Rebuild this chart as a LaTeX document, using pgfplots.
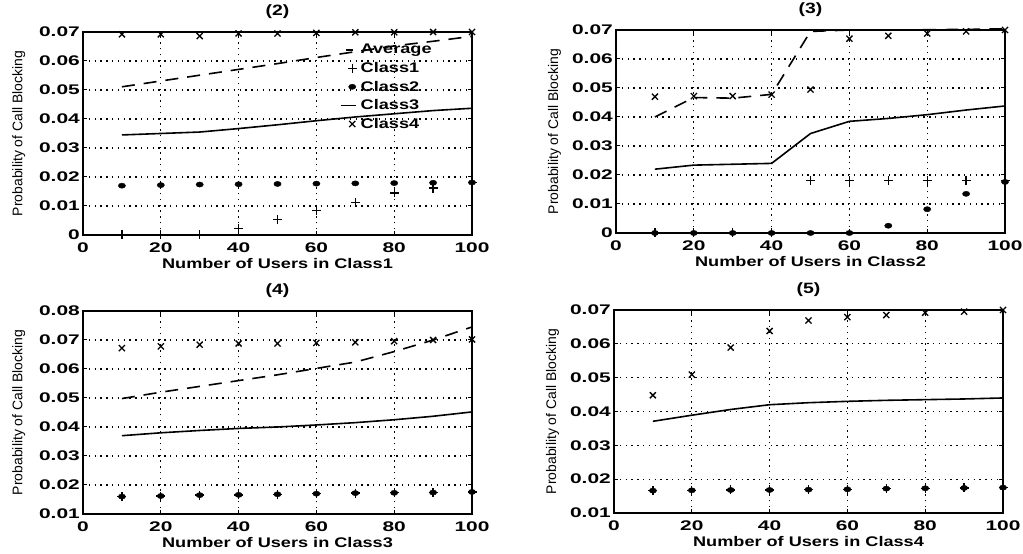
\documentclass[border=0pt]{standalone}
\usepackage{fontspec}
\setmainfont{Liberation Sans}[FakeStretch=1.3]
\newfontfamily\tickfont{Liberation Sans}[FakeStretch=1.5]
\newfontfamily\ylabfont{Liberation Sans}
\usepackage{pgfplots}
\pgfplotsset{compat=1.18}

\pgfplotsset{
  blk/.style={
    scale only axis, width=389bp, height=203bp, anchor=south west,
    xmin=0, xmax=100, xtick={0,20,40,60,80,100},
    clip=false,
    axis line style={line width=1.5bp},
    tick style={line width=1bp, black},
    major tick length=4bp,
    tick align=inside,
    grid=major,
    major grid style={line width=1.3bp, dash pattern=on 1.4bp off 4.4bp, black},
    scaled y ticks=false,
    yticklabel style={/pgf/number format/fixed, /pgf/number format/precision=2,
      anchor=east, inner sep=1bp, xshift=-2bp},
    xticklabel style={anchor=center, yshift=-13bp},
    ticklabel style={font=\tickfont\bfseries\fontsize{14}{14}\selectfont},
    /pgf/number format/assume math mode=true,
    title style={at={(axis description cs:0.5,1.07)}, anchor=center,
      font=\bfseries\fontsize{15}{15}\selectfont},
    xlabel style={at={(axis description cs:0.5,-0.14)}, anchor=center,
      font=\bfseries\fontsize{14}{14}\selectfont},
    ylabel style={at={(axis description cs:-0.165,0.5)}, anchor=center,
      font=\ylabfont\fontsize{14}{14}\selectfont},
    ylabel={Probability of Call Blocking},
  },
  avg/.style={black, line width=1.6bp, dash pattern=on 13bp off 9bp,
    legend image code/.code={\draw[line width=1.6bp] (2bp,0bp) -- (9bp,0bp);}},
  c1/.style={black, only marks, mark=+, mark size=4.5bp, mark options={line width=1.3bp}},
  c2/.style={black, only marks, mark=*, mark size=2.6bp, mark options={xscale=1.4}},
  c3/.style={black, line width=1.6bp,
    legend image code/.code={\draw[line width=1.6bp] (-3bp,0bp) -- (12bp,0bp);}},
  c4/.style={black, only marks, mark=x, mark size=4.3bp, mark options={line width=1.3bp}},
}

\begin{document}
\begin{tikzpicture}[x=1bp,y=1bp]
\useasboundingbox (0,0) rectangle (1023,554);

% (2)
\begin{axis}[blk, at={(83bp,319bp)}, ymin=0, ymax=0.07,
  ytick={0,0.01,0.02,0.03,0.04,0.05,0.06,0.07},
  title={(2)}, xlabel={Number of Users in Class1},
  legend style={at={(0.66,0.95)}, anchor=north west, draw=none, fill=none,
    font=\bfseries\fontsize{14}{14}\selectfont, row sep=3bp, column sep=2bp,
    inner sep=0pt},
  legend cell align=left]
\addplot[avg] coordinates {(10,0.0511) (20,0.0531) (30,0.0551) (40,0.0571) (50,0.0591)
  (60,0.0612) (70,0.0632) (80,0.0652) (90,0.0668) (100,0.0685)};
\addlegendentry{Average}
\addplot[c1] coordinates {(10,0) (20,0) (30,0) (40,0.0022) (50,0.0053) (60,0.0085)
  (70,0.0112) (80,0.0145) (90,0.0162) (100,0.018)};
\addlegendentry{Class1}
\addplot[c2] coordinates {(10,0.0170) (20,0.0172) (30,0.0174) (40,0.0175) (50,0.0176)
  (60,0.0177) (70,0.0178) (80,0.0179) (90,0.0180) (100,0.0181)};
\addlegendentry{Class2}
\addplot[c3] coordinates {(10,0.0345) (20,0.0350) (30,0.0355) (40,0.0367) (50,0.0380)
  (60,0.0394) (70,0.0407) (80,0.0418) (90,0.0429) (100,0.0437)};
\addlegendentry{Class3}
\addplot[c4] coordinates {(10,0.0692) (20,0.0692) (30,0.0686) (40,0.0695) (50,0.0695)
  (60,0.0697) (70,0.0699) (80,0.0699) (90,0.0700) (100,0.0700)};
\addlegendentry{Class4}
\end{axis}

% (3)
\begin{axis}[blk, at={(616bp,321bp)}, ymin=0, ymax=0.07,
  ytick={0,0.01,0.02,0.03,0.04,0.05,0.06,0.07},
  title={(3)}, xlabel={Number of Users in Class2},
  ylabel style={at={(axis description cs:-0.158,0.5)}}]
\addplot[avg] coordinates {(10,0.0400) (20,0.0467) (30,0.0465) (40,0.0478) (50,0.0695)
  (60,0.0700) (70,0.0700) (80,0.0701) (90,0.0702) (100,0.0704)};
\addplot[c1] coordinates {(10,0) (20,0) (30,0) (40,0) (50,0.0180) (60,0.0180)
  (70,0.0180) (80,0.0180) (90,0.0181) (100,0.0180)};
\addplot[c2] coordinates {(10,0) (20,0) (30,0) (40,0) (50,0) (60,0)
  (70,0.0025) (80,0.0082) (90,0.0135) (100,0.0176)};
\addplot[c3] coordinates {(10,0.0220) (20,0.0234) (30,0.0237) (40,0.0240) (50,0.0343)
  (60,0.0385) (70,0.0395) (80,0.0408) (90,0.0424) (100,0.0438)};
\addplot[c4] coordinates {(10,0.0470) (20,0.0472) (30,0.0472) (40,0.0477) (50,0.0495)
  (60,0.0670) (70,0.0680) (80,0.0688) (90,0.0695) (100,0.0700)};
\end{axis}

% (4)
\begin{axis}[blk, at={(83bp,40bp)}, ymin=0.01, ymax=0.08,
  ytick={0.01,0.02,0.03,0.04,0.05,0.06,0.07,0.08},
  title={(4)}, xlabel={Number of Users in Class3}]
\addplot[avg] coordinates {(10,0.0498) (20,0.0520) (30,0.0540) (40,0.0560) (50,0.0580)
  (60,0.0602) (70,0.0624) (80,0.0660) (90,0.0700) (100,0.0745)};
\addplot[c1] coordinates {(10,0.0160) (20,0.0162) (30,0.0165) (40,0.0166) (50,0.0168)
  (60,0.0170) (70,0.0172) (80,0.0173) (90,0.0174) (100,0.0176)};
\addplot[c2] coordinates {(10,0.0160) (20,0.0162) (30,0.0165) (40,0.0166) (50,0.0168)
  (60,0.0170) (70,0.0172) (80,0.0173) (90,0.0174) (100,0.0176)};
\addplot[c3] coordinates {(10,0.0370) (20,0.0380) (30,0.0388) (40,0.0395) (50,0.0400)
  (60,0.0407) (70,0.0415) (80,0.0425) (90,0.0437) (100,0.0452)};
\addplot[c4] coordinates {(10,0.0672) (20,0.0678) (30,0.0684) (40,0.0688) (50,0.0688)
  (60,0.0690) (70,0.0692) (80,0.0696) (90,0.0700) (100,0.0702)};
\end{axis}

% (5)
\begin{axis}[blk, at={(614bp,41bp)}, ymin=0.01, ymax=0.07,
  ytick={0.01,0.02,0.03,0.04,0.05,0.06,0.07},
  title={(5)}, xlabel={Number of Users in Class4},
  ylabel style={at={(axis description cs:-0.158,0.5)}}]
\addplot[c1] coordinates {(10,0.0166) (20,0.0167) (30,0.0168) (40,0.0168) (50,0.0169)
  (60,0.0170) (70,0.0172) (80,0.0173) (90,0.0174) (100,0.0175)};
\addplot[c2] coordinates {(10,0.0166) (20,0.0167) (30,0.0168) (40,0.0168) (50,0.0169)
  (60,0.0170) (70,0.0172) (80,0.0173) (90,0.0174) (100,0.0175)};
\addplot[c3] coordinates {(10,0.0371) (20,0.0389) (30,0.0406) (40,0.0420) (50,0.0426)
  (60,0.0430) (70,0.0433) (80,0.0435) (90,0.0437) (100,0.0440)};
\addplot[c4] coordinates {(10,0.0448) (20,0.0509) (30,0.0589) (40,0.0638) (50,0.0669)
  (60,0.0679) (70,0.0685) (80,0.0692) (90,0.0695) (100,0.0700)};
\end{axis}
\end{tikzpicture}
\end{document}
